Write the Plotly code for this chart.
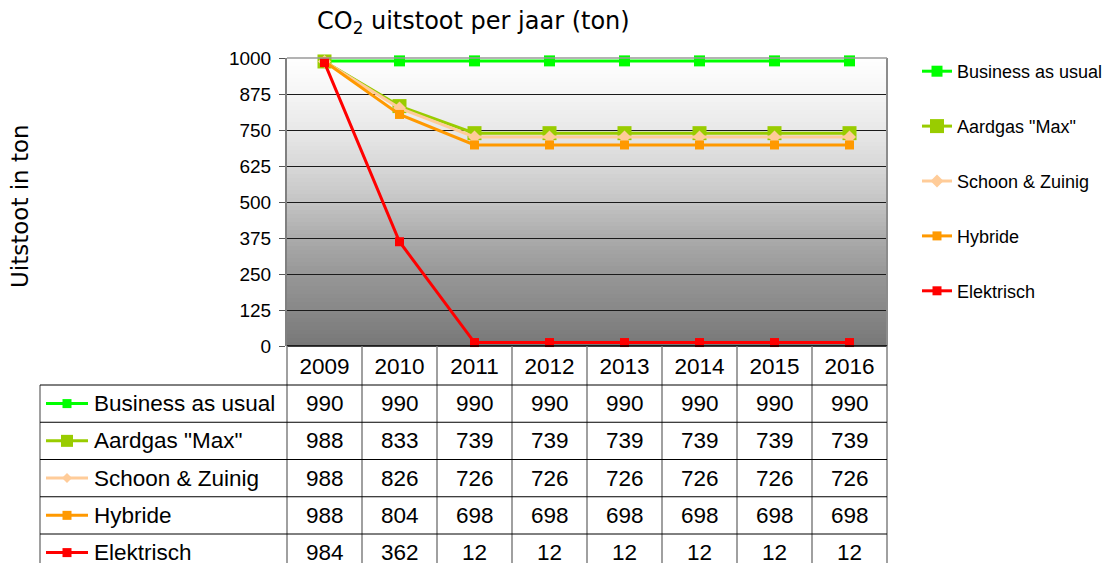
import plotly.graph_objects as go

# ---------------- data ----------------
years = ["2009", "2010", "2011", "2012", "2013", "2014", "2015", "2016"]
series_names = ["Business as usual", "Aardgas \"Max\"", "Schoon & Zuinig", "Hybride", "Elektrisch"]
business_as_usual = [990, 990, 990, 990, 990, 990, 990, 990]
aardgas_max = [988, 833, 739, 739, 739, 739, 739, 739]
schoon_zuinig = [988, 826, 726, 726, 726, 726, 726, 726]
hybride = [988, 804, 698, 698, 698, 698, 698, 698]
elektrisch = [984, 362, 12, 12, 12, 12, 12, 12]
series_values = [business_as_usual, aardgas_max, schoon_zuinig, hybride, elektrisch]
y_ticks = [0, 125, 250, 375, 500, 625, 750, 875, 1000]

# ---------------- styles ----------------
colors = ["#00ff00", "#99cc00", "#ffcc99", "#ff9900", "#ff0000"]
symbols = ["square", "square", "diamond", "square", "square"]
msizes = [11, 14, 10, 9, 9]

OFF = 8  # page body margin offset
W, H = 1114 - OFF, 563 - OFF
PL, PT = 287, 58          # plot left/top in reference pixels
PW, PH = 600, 288
L, T = PL - OFF, PT - OFF
R, B = W - L - PW, H - T - PH
BASE = PT + PH  # reference pixel y of plot bottom


def pxx(X):
    return (X - PL) / PW


def pxy(Y):
    return (BASE - Y) / PH


FONT_SANS = "Liberation Sans, Arial, sans-serif"
FONT_VERD = "DejaVu Sans, Verdana, sans-serif"

fig = go.Figure()
for name, vals, c, s, ms in zip(series_names, series_values, colors, symbols, msizes):
    fig.add_trace(go.Scatter(
        x=years, y=vals, name=name, mode="lines+markers",
        line=dict(color=c, width=3),
        marker=dict(symbol=s, size=ms, color=c, line=dict(width=0)),
        legendgroup=name, cliponaxis=False,
    ))

shapes = []
# gradient background
stops = [(0.0, 0x77), (0.125, 0x88), (0.25, 0x97), (0.375, 0xab), (0.5, 0xc4),
         (0.625, 0xd8), (0.75, 0xe8), (0.875, 0xf5), (1.0, 0xff)]
N = 72
for i in range(N):
    y0 = i / N
    y1 = (i + 1) / N
    ym = (y0 + y1) / 2
    for (a, ca), (b, cb) in zip(stops[:-1], stops[1:]):
        if a <= ym <= b:
            v = int(round(ca + (cb - ca) * (ym - a) / (b - a)))
            break
    col = "rgb(%d,%d,%d)" % (v, v, v)
    shapes.append(dict(type="rect", xref="x domain", yref="y domain", x0=0, x1=1,
                       y0=y0, y1=y1 + 0.002, fillcolor=col, line=dict(width=0), layer="below"))

# plot borders
shapes.append(dict(type="line", xref="paper", yref="paper", x0=pxx(887), x1=pxx(887),
                   y0=pxy(58), y1=pxy(346), line=dict(color="#8c8c8c", width=2)))
shapes.append(dict(type="line", xref="paper", yref="paper", x0=pxx(287), x1=pxx(887),
                   y0=pxy(58), y1=pxy(58), line=dict(color="#9a9a9a", width=1.5)))

# table grid
row_tops = [385 + i * 37.25 for i in range(len(series_names))]
shapes.append(dict(type="line", xref="paper", yref="paper", x0=pxx(287), x1=pxx(887),
                   y0=pxy(346), y1=pxy(346), line=dict(color="#000000", width=1.5)))
for k in range(len(years) + 1):
    X = 287 + 75 * k
    shapes.append(dict(type="line", xref="paper", yref="paper", x0=pxx(X), x1=pxx(X),
                       y0=pxy(346), y1=pxy(575), line=dict(color="#808080", width=1.5)))
shapes.append(dict(type="line", xref="paper", yref="paper", x0=pxx(40), x1=pxx(40),
                   y0=pxy(385), y1=pxy(575), line=dict(color="#808080", width=1.5)))
for Y in row_tops:
    shapes.append(dict(type="line", xref="paper", yref="paper", x0=pxx(40), x1=pxx(887),
                       y0=pxy(Y), y1=pxy(Y), line=dict(color="#000000", width=1)))

annotations = []
for i, (name, vals, c, s) in enumerate(zip(series_names, series_values, colors, symbols)):
    yc = row_tops[i] + 18.6
    # legend key in table
    shapes.append(dict(type="line", xref="paper", yref="paper", x0=pxx(46), x1=pxx(88),
                       y0=pxy(yc), y1=pxy(yc), line=dict(color=c, width=3)))
    hs = 6 if i == 1 else 4.5
    if s == "diamond":
        path = "M %f %f L %f %f L %f %f L %f %f Z" % (
            pxx(67), pxy(yc - 5), pxx(72), pxy(yc), pxx(67), pxy(yc + 5), pxx(62), pxy(yc))
        shapes.append(dict(type="path", xref="paper", yref="paper", path=path,
                           fillcolor=c, line=dict(width=0)))
    else:
        shapes.append(dict(type="rect", xref="paper", yref="paper", x0=pxx(67 - hs), x1=pxx(67 + hs),
                           y0=pxy(yc - hs), y1=pxy(yc + hs), fillcolor=c, line=dict(width=0)))
    annotations.append(dict(xref="paper", yref="paper", x=pxx(92), y=pxy(yc), text=name,
                            showarrow=False, xanchor="left", yanchor="middle",
                            font=dict(family=FONT_SANS, size=22.5, color="#000")))
    for j, v in enumerate(vals):
        annotations.append(dict(xref="x", yref="paper", x=j, y=pxy(yc), text=str(v),
                                showarrow=False, xanchor="center", yanchor="middle",
                                font=dict(family=FONT_SANS, size=22.5, color="#000")))

# title and y title
annotations.append(dict(xref="paper", yref="paper", x=pxx(473), y=pxy(22),
                        text="CO<sub>2</sub> uitstoot per jaar (ton)", showarrow=False,
                        xanchor="center", yanchor="middle",
                        font=dict(family=FONT_VERD, size=24, color="#000")))
annotations.append(dict(xref="paper", yref="paper", x=pxx(20), y=pxy(206),
                        text="Uitstoot in ton", showarrow=False, textangle=-90,
                        xanchor="center", yanchor="middle",
                        font=dict(family=FONT_VERD, size=23, color="#000")))

fig.update_layout(
    width=W, height=H,
    margin=dict(l=L, r=R, t=T, b=B, pad=0, autoexpand=False),
    paper_bgcolor="white", plot_bgcolor="rgba(0,0,0,0)",
    showlegend=True,
    legend=dict(x=pxx(917), y=pxy(53), xanchor="left", yanchor="top",
                font=dict(family=FONT_SANS, size=18, color="#000"),
                tracegroupgap=28.5, bgcolor="rgba(0,0,0,0)", itemwidth=30),
    xaxis=dict(type="category", categoryorder="array", categoryarray=years,
               range=[-0.5, len(years) - 0.5], showgrid=False, showline=False,
               ticks="", zeroline=False, ticklabelstandoff=4,
               tickfont=dict(family=FONT_SANS, size=22.5, color="#000")),
    yaxis=dict(range=[0, 1000], tickmode="array", tickvals=y_ticks,
               ticktext=[str(t) for t in y_ticks],
               showgrid=True, gridcolor="#1a1a1a", gridwidth=1, zeroline=False,
               showline=True, linecolor="#808080", linewidth=2,
               ticks="outside", ticklen=6, tickcolor="#555555", ticklabelstandoff=4,
               tickfont=dict(family=FONT_SANS, size=19, color="#000")),
    shapes=shapes, annotations=annotations,
)

fig.write_html("out.html")
